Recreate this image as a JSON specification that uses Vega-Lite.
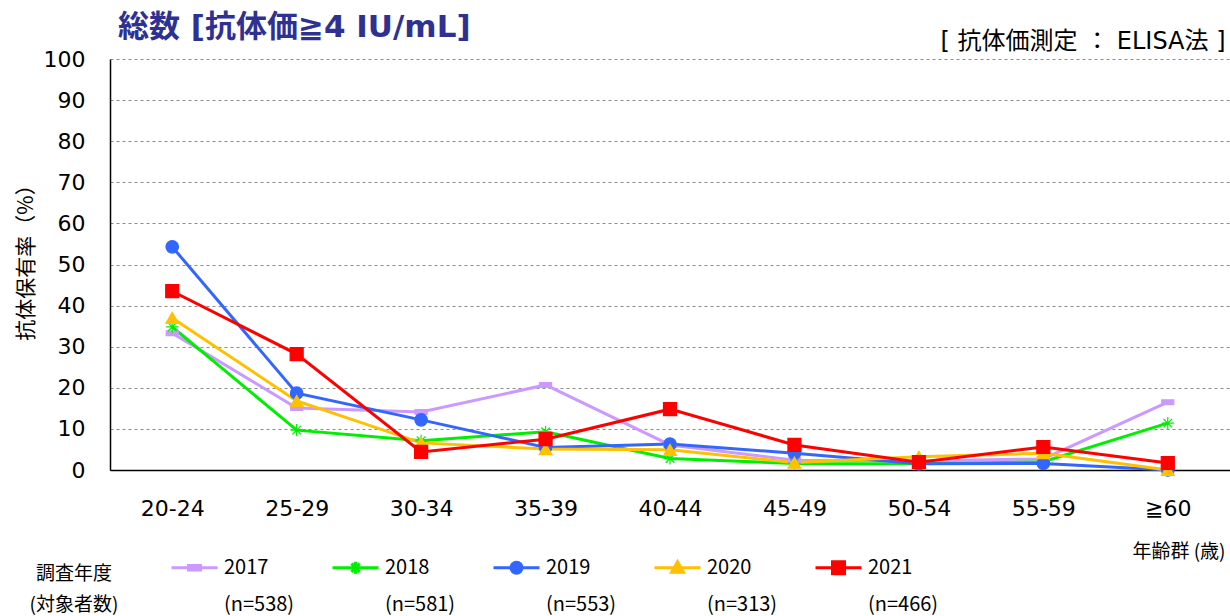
{
  "$schema": "https://vega.github.io/schema/vega-lite/v6.json",
  "width": 1120,
  "height": 411,
  "autosize": {"type": "none"},
  "padding": {"left": 110, "top": 59, "right": 0, "bottom": 146},
  "background": "white",
  "config": {
    "view": {"stroke": null},
    "font": "DejaVu Sans, Noto Sans CJK JP"
  },
  "title": {
    "text": "総数 [抗体価≧4 IU/mL]",
    "anchor": "start",
    "frame": "group",
    "fontSize": 31,
    "fontWeight": "bold",
    "color": "#2E3192",
    "font": "DejaVu Sans, Noto Sans CJK JP",
    "dx": 8,
    "offset": -15
  },
  "data": {
    "values": [
      {"age": "20-24", "series": "2017|(n=538)", "value": 33.3},
      {"age": "25-29", "series": "2017|(n=538)", "value": 15.1},
      {"age": "30-34", "series": "2017|(n=538)", "value": 14.1},
      {"age": "35-39", "series": "2017|(n=538)", "value": 20.7},
      {"age": "40-44", "series": "2017|(n=538)", "value": 6.1},
      {"age": "45-49", "series": "2017|(n=538)", "value": 2.4},
      {"age": "50-54", "series": "2017|(n=538)", "value": 2.2},
      {"age": "55-59", "series": "2017|(n=538)", "value": 2.7},
      {"age": "≧60", "series": "2017|(n=538)", "value": 16.5},
      {"age": "20-24", "series": "2018|(n=581)", "value": 34.8},
      {"age": "25-29", "series": "2018|(n=581)", "value": 9.7},
      {"age": "30-34", "series": "2018|(n=581)", "value": 7.1},
      {"age": "35-39", "series": "2018|(n=581)", "value": 9.3},
      {"age": "40-44", "series": "2018|(n=581)", "value": 2.8},
      {"age": "45-49", "series": "2018|(n=581)", "value": 1.6},
      {"age": "50-54", "series": "2018|(n=581)", "value": 1.5},
      {"age": "55-59", "series": "2018|(n=581)", "value": 2.0},
      {"age": "≧60", "series": "2018|(n=581)", "value": 11.4},
      {"age": "20-24", "series": "2019|(n=553)", "value": 54.3},
      {"age": "25-29", "series": "2019|(n=553)", "value": 18.7},
      {"age": "30-34", "series": "2019|(n=553)", "value": 12.2},
      {"age": "35-39", "series": "2019|(n=553)", "value": 5.5},
      {"age": "40-44", "series": "2019|(n=553)", "value": 6.3},
      {"age": "45-49", "series": "2019|(n=553)", "value": 4.1},
      {"age": "50-54", "series": "2019|(n=553)", "value": 1.5},
      {"age": "55-59", "series": "2019|(n=553)", "value": 1.6},
      {"age": "≧60", "series": "2019|(n=553)", "value": 0.0},
      {"age": "20-24", "series": "2020|(n=313)", "value": 37.0},
      {"age": "25-29", "series": "2020|(n=313)", "value": 16.8},
      {"age": "30-34", "series": "2020|(n=313)", "value": 6.6},
      {"age": "35-39", "series": "2020|(n=313)", "value": 5.1},
      {"age": "40-44", "series": "2020|(n=313)", "value": 4.9},
      {"age": "45-49", "series": "2020|(n=313)", "value": 1.8},
      {"age": "50-54", "series": "2020|(n=313)", "value": 3.2},
      {"age": "55-59", "series": "2020|(n=313)", "value": 4.1},
      {"age": "≧60", "series": "2020|(n=313)", "value": 0.0},
      {"age": "20-24", "series": "2021|(n=466)", "value": 43.5},
      {"age": "25-29", "series": "2021|(n=466)", "value": 28.2},
      {"age": "30-34", "series": "2021|(n=466)", "value": 4.4},
      {"age": "35-39", "series": "2021|(n=466)", "value": 7.5},
      {"age": "40-44", "series": "2021|(n=466)", "value": 14.8},
      {"age": "45-49", "series": "2021|(n=466)", "value": 6.1},
      {"age": "50-54", "series": "2021|(n=466)", "value": 1.9},
      {"age": "55-59", "series": "2021|(n=466)", "value": 5.6},
      {"age": "≧60", "series": "2021|(n=466)", "value": 1.7}
    ]
  },
  "resolve": {"axis": {"x": "independent"}},
  "layer": [
    {
      "mark": {"type": "line"},
      "encoding": {
        "x": {
          "field": "age", "type": "nominal",
          "scale": {"domain": ["20-24","25-29","30-34","35-39","40-44","45-49","50-54","55-59","≧60"], "type": "point", "padding": 0.5},
          "axis": {
            "orient": "bottom",
            "title": "年齢群 (歳)",
            "titleFont": "Noto Sans CJK JP",
            "titleFontSize": 19,
            "titleFontWeight": "normal",
            "titleColor": "black",
            "titleAnchor": "end",
            "titleAlign": "right",
            "titleX": 1115,
            "titlePadding": 23,
            "labelAngle": 0,
            "labelFontSize": 22,
            "labelColor": "black",
            "labelPadding": 28,
            "ticks": false,
            "domainColor": "black",
            "domainWidth": 1.5,
            "grid": false
          }
        },
        "y": {
          "field": "value", "type": "quantitative",
          "scale": {"domain": [0, 100], "nice": false},
          "axis": {
            "values": [0,10,20,30,40,50,60,70,80,90,100],
            "title": "抗体保有率（%）",
            "titleFont": "Noto Sans CJK JP",
            "titleFontSize": 21,
            "titleFontWeight": "normal",
            "titleColor": "black",
            "titlePadding": 7,
            "titleY": 198,
            "labelFontSize": 22,
            "labelColor": "black",
            "labelPadding": 25,
            "ticks": false,
            "domainColor": "black",
            "domainWidth": 1.5,
            "grid": true,
            "gridColor": "#8c8c8c",
            "gridDash": [3, 3],
            "gridWidth": 1
          }
        },
        "color": {
          "field": "series", "type": "nominal",
          "scale": {"domain": ["2017|(n=538)","2018|(n=581)","2019|(n=553)","2020|(n=313)","2021|(n=466)"], "range": ["#CC99FF","#00EE00","#3366FF","#FFC000","#FF0000"]},
          "legend": {
            "orient": "none",
            "direction": "horizontal",
            "legendX": -80,
            "legendY": 484,
            "title": ["調査年度", "(対象者数)"],
            "titleOrient": "left",
            "titleFont": "Noto Sans CJK JP",
            "titleFontSize": 19,
            "titleFontWeight": "normal",
            "titleColor": "black",
            "titleLineHeight": 31,
            "titleAlign": "center",
            "titlePadding": 7,
            "labelExpr": "split(datum.label, '|')",
            "labelFont": "Noto Sans CJK JP",
            "labelFontSize": 20,
            "labelColor": "black",
            "labelOffset": 5,
            "columnPadding": 31,
            "symbolType": "M-1,0H1",
            "symbolSize": 2116,
            "symbolStrokeWidth": 3,
            "encode": {
              "labels": {"update": {"lineHeight": {"value": 37}}},
              "title": {"update": {"dy": {"value": 11}}},
              "symbols": {"update": {
                "shape": {"signal": "substring(datum.value,0,4)==='2017' ? 'M-1,0H1M-0.26,-0.1H0.26V0.1H-0.26Z' : substring(datum.value,0,4)==='2018' ? 'M-1,0H1M-0.26,0H0.26M0,-0.26V0.26M-0.18,-0.18L0.18,0.18M-0.18,0.18L0.18,-0.18' : substring(datum.value,0,4)==='2019' ? 'M-1,0H1M-0.24,0A0.24,0.24,0,1,1,0.24,0A0.24,0.24,0,1,1,-0.24,0Z' : substring(datum.value,0,4)==='2020' ? 'M-1,0H1M0,-0.26L0.26,0.2H-0.26Z' : 'M-1,0H1M-0.26,-0.26H0.26V0.26H-0.26Z'"},
                "fill": {"signal": "scale('color', datum.value)"},
                "stroke": {"signal": "scale('color', datum.value)"},
                "strokeWidth": {"signal": "substring(datum.value,0,4)==='2021' ? 4.5 : substring(datum.value,0,4)==='2019' ? 2.5 : 3"},
                "opacity": {"value": 1},
                "fillOpacity": {"value": 1},
                "strokeOpacity": {"value": 1}
              }}
            }
          }
        },
        "strokeWidth": {
          "field": "series", "type": "nominal",
          "scale": {"domain": ["2017|(n=538)","2018|(n=581)","2019|(n=553)","2020|(n=313)","2021|(n=466)"], "range": [3, 3, 2.5, 3, 4.5]},
          "legend": null
        }
      }
    },
    {
      "transform": [{"calculate": "substring(datum.series, 0, 4)", "as": "marker"}],
      "mark": {"type": "point", "filled": true, "opacity": 1, "strokeWidth": 1.2},
      "encoding": {
        "x": {
          "field": "age", "type": "nominal",
          "scale": {"domain": ["20-24","25-29","30-34","35-39","40-44","45-49","50-54","55-59","≧60"], "type": "point", "padding": 0.5},
          "axis": {
            "orient": "top",
            "labels": false,
            "ticks": false,
            "domain": false,
            "grid": false,
            "title": "[ 抗体価測定 ： ELISA法 ]",
            "titleFont": "DejaVu Sans, Noto Sans CJK JP",
            "titleFontSize": 24,
            "titleFontWeight": "normal",
            "titleColor": "black",
            "titleAnchor": "end",
            "titleAlign": "right",
            "titleX": 1115,
            "titlePadding": 6
          }
        },
        "y": {"field": "value", "type": "quantitative", "scale": {"domain": [0, 100], "nice": false}},
        "fill": {
          "field": "marker", "type": "nominal",
          "scale": {"domain": ["2017","2018","2019","2020","2021"], "range": ["#CC99FF","#00EE00","#3366FF","#FFC000","#FF0000"]},
          "legend": null
        },
        "stroke": {
          "field": "marker", "type": "nominal",
          "scale": {"domain": ["2017","2018","2019","2020","2021"], "range": ["#CC99FF","#00EE00","#3366FF","#FFC000","#FF0000"]},
          "legend": null
        },
        "shape": {
          "field": "marker", "type": "nominal",
          "scale": {"domain": ["2017","2018","2019","2020","2021"], "range": ["M-1,-0.4H1V0.4H-1Z", "M-1,0H1M0,-1V1M-0.7,-0.7L0.7,0.7M-0.7,0.7L0.7,-0.7", "circle", "triangle-up", "square"]},
          "legend": null
        },
        "size": {
          "field": "marker", "type": "nominal",
          "scale": {"domain": ["2017","2018","2019","2020","2021"], "range": [144, 169, 120, 150, 169]},
          "legend": null
        }
      }
    }
  ]
}
